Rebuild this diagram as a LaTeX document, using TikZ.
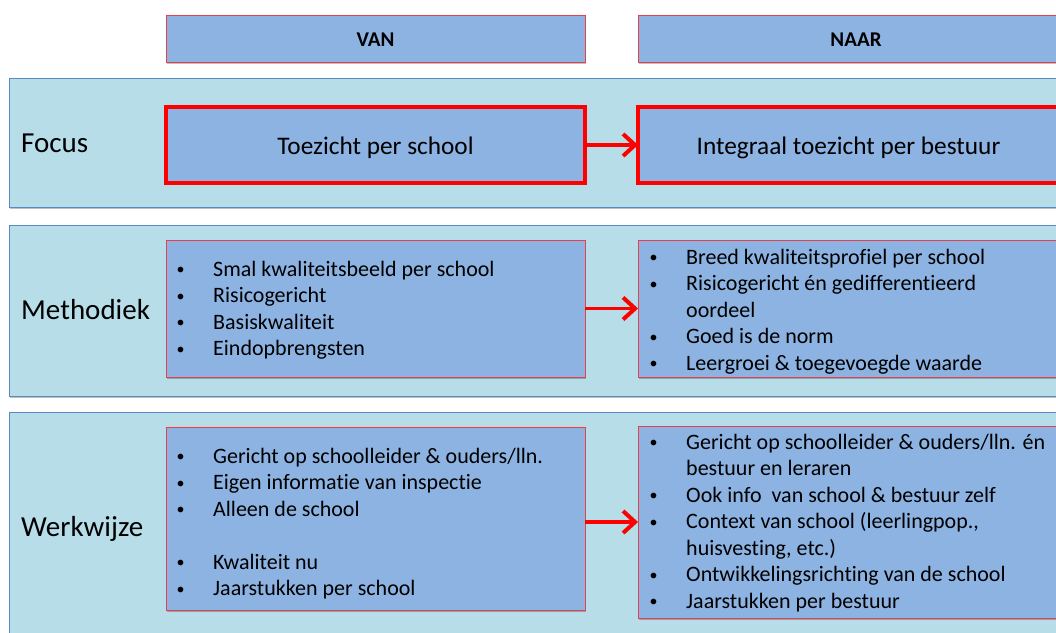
\documentclass[tikz,border=0pt]{standalone}
\usepackage{fontspec}
\setmainfont{Carlito}[Ligatures={NoCommon}]
\usetikzlibrary{arrows.meta,shadows}
\definecolor{bandfill}{HTML}{B7DDE8}
\definecolor{banddraw}{HTML}{5A8AC6}
\definecolor{boxfill}{HTML}{8DB3E2}
\definecolor{thinred}{HTML}{E8404A}
\newcommand{\bul}{\raisebox{1.2pt}{\fontsize{16}{16}\selectfont •}}
\begin{document}
\begin{tikzpicture}[x=1pt,y=-1pt,
  band/.style={rectangle,draw=banddraw,fill=bandfill,line width=1pt,inner sep=0pt,outer sep=0pt,anchor=north west,
    drop shadow={shadow xshift=1pt,shadow yshift=-2pt,opacity=0.25,fill=black}},
  hbox/.style={rectangle,draw=thinred,fill=boxfill,line width=1pt,inner sep=0pt,outer sep=0pt,anchor=north west,
    drop shadow={shadow xshift=1pt,shadow yshift=-2pt,opacity=0.25,fill=black}},
  fbox/.style={rectangle,draw=red,fill=boxfill,line width=4pt,inner sep=0pt,outer sep=0pt,anchor=north west,
    drop shadow={shadow xshift=1pt,shadow yshift=-2pt,opacity=0.25,fill=black}},
  rowlabel/.style={anchor=base west,inner sep=0pt,font=\fontsize{29}{33}\selectfont},
  headtext/.style={anchor=base,inner sep=0pt,font=\fontsize{21}{24}\selectfont\bfseries},
  focustext/.style={anchor=base,inner sep=0pt,font=\fontsize{25.3}{29}\selectfont},
  list/.style={anchor=base west,inner sep=0pt,font=\fontsize{22}{26.5}\selectfont},
  arr/.style={draw=red,line width=3.5pt,-{Straight Barb[length=12pt,width=22pt,line width=4pt]}}
]
\clip (0,0) rectangle (1056,632);
\fill[white] (0,0) rectangle (1056,632);

% header boxes
\node[hbox,minimum width=419,minimum height=47] (hv) at (166,15) {};
\node[hbox,minimum width=436,minimum height=47] (hn) at (638,15) {};
\node[headtext] (tv) at (375.5,46) {VAN};
\node[headtext] (tn) at (856,46) {NAAR};

% bands
\node[band,minimum width=1070,minimum height=129] (bf) at (9,78) {};
\node[band,minimum width=1070,minimum height=171] (bm) at (9,225) {};
\node[band,minimum width=1070,minimum height=240] (bw) at (9,412) {};

\node[rowlabel] (lf) at (21,152) {Focus};
\node[rowlabel] (lm) at (21,319) {Methodiek};
\node[rowlabel] (lw) at (21,536) {Werkwijze};

% Focus
\node[fbox,minimum width=419,minimum height=76] (f1) at (166,107) {};
\node[fbox,minimum width=420,minimum height=76] (f2) at (638,107) {};
\node[focustext] (tf1) at (375.5,154) {Toezicht per school};
\node[focustext] (tf2) at (848.5,154) {Integraal toezicht per bestuur};
\draw[arr] (f1.east) -- (f2.west);

% Methodiek
\node[hbox,minimum width=419,minimum height=137] (m1) at (166,240) {};
\node[hbox,minimum width=430,minimum height=137] (m2) at (638,240) {};
\node[list] (tm1) at (176.5,276) {\begin{tabular}[t]{@{}p{36.5pt}@{}l@{}}
\bul & Smal kwaliteitsbeeld per school\\
\bul & Risicogericht\\
\bul & Basiskwaliteit\\
\bul & Eindopbrengsten
\end{tabular}};
\node[list] (tm2) at (649.5,264) {\begin{tabular}[t]{@{}p{36.5pt}@{}l@{}}
\bul & Breed kwaliteitsprofiel per school\\
\bul & Risicogericht én gedifferentieerd\\
  & oordeel\\
\bul & Goed is de norm\\
\bul & Leergroei \& toegevoegde waarde
\end{tabular}};
\draw[arr] (m1.east) -- (m2.west);

% Werkwijze
\node[hbox,minimum width=419,minimum height=183] (w1) at (166,427) {};
\node[hbox,minimum width=430,minimum height=192] (w2) at (638,426) {};
\node[list] (tw1) at (176.5,463) {\begin{tabular}[t]{@{}p{36.5pt}@{}l@{}}
\bul & Gericht op schoolleider \& ouders/lln.\\
\bul & Eigen informatie van inspectie\\
\bul & Alleen de school\\
  & \\
\bul & Kwaliteit nu\\
\bul & Jaarstukken per school
\end{tabular}};
\node[list] (tw2) at (649.5,449) {\begin{tabular}[t]{@{}p{36.5pt}@{}l@{}}
\bul & Gericht op schoolleider \& ouders/lln. én\\
  & bestuur en leraren\\
\bul & Ook info\ \ van school \& bestuur zelf\\
\bul & Context van school (leerlingpop.,\\
  & huisvesting, etc.)\\
\bul & Ontwikkelingsrichting van de school\\
\bul & Jaarstukken per bestuur
\end{tabular}};
\draw[arr] (w1.east |- w2.west) -- (w2.west);
\end{tikzpicture}
\end{document}
